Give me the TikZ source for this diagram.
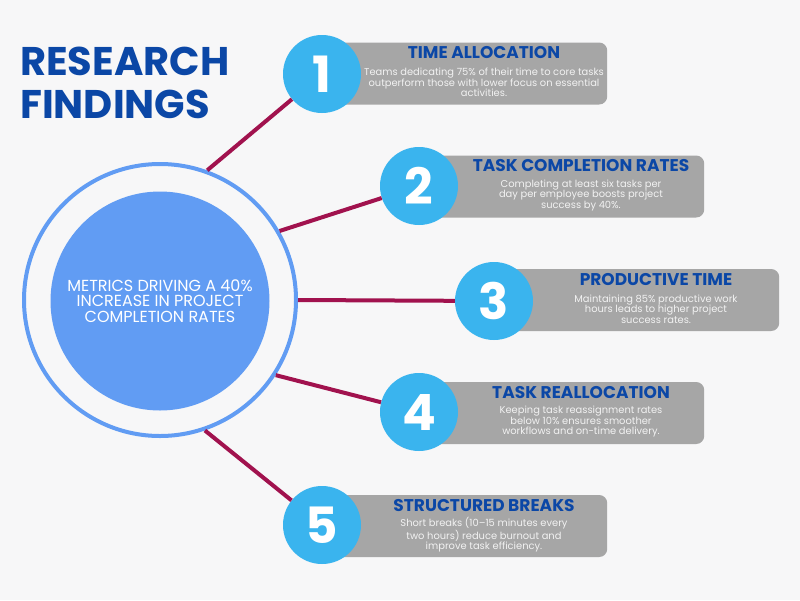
\documentclass[tikz,border=0pt]{standalone}
\usepackage{fontspec}
\setmainfont{Poppins}
\definecolor{pagebg}{HTML}{F7F7F8}
\definecolor{headblue}{HTML}{0B47A6}
\definecolor{coreblue}{HTML}{619CF3}
\definecolor{numblue}{HTML}{3AB4EE}
\definecolor{linkred}{HTML}{A1124E}
\definecolor{boxgray}{HTML}{A6A6A6}
\definecolor{bodytext}{HTML}{F2F2F2}
\begin{document}
\begin{tikzpicture}[x=1pt, y=-1pt,
  heading/.style={anchor=base west, text=headblue, font=\bfseries\fontsize{40}{40}\selectfont, inner sep=0},
  num/.style={circle, fill=numblue, minimum size=78, inner sep=0, text=white, font=\bfseries\fontsize{50}{50}\selectfont},
  card/.style={rectangle, rounded corners=8, fill=boxgray, minimum width=285, minimum height=62, anchor=west, inner sep=0},
  cardtitle/.style={text=headblue, font=\bfseries\fontsize{17}{17}\selectfont, inner sep=0},
  cardbody/.style={text=bodytext, align=center, font=\fontsize{9.9}{10.5}\selectfont, inner sep=0},
  link/.style={draw=linkred, line width=4}]
  % Background
  \fill[pagebg] (0,0) rectangle (800,600);

  % Heading
  \node[heading] (head1) at (20,75) {RESEARCH};
  \node[heading] (head2) at (20,118) {FINDINGS};

  % Centre circle
  \node[circle, draw=coreblue, line width=4, minimum size=272, inner sep=0] (ring) at (160,300) {};
  \node[circle, fill=coreblue, minimum size=219, inner sep=0, text=white, align=center,
        font=\fontsize{16}{15.5}\selectfont] (core) at (160,301)
        {METRICS DRIVING A 40\%\\INCREASE IN PROJECT\\COMPLETION RATES};

  % Cards
  \node[card] (card1) at (322,73.5) {};
  \node[card] (card2) at (419,186.5) {};
  \node[card] (card3) at (494,300) {};
  \node[card] (card4) at (419,413) {};
  \node[card] (card5) at (322,526) {};

  % Numbers
  \node[num] (n1) at (322,74) {1};
  \node[num] (n2) at (419,186) {2};
  \node[num] (n3) at (494,301) {3};
  \node[num] (n4) at (419,412) {4};
  \node[num] (n5) at (322,525) {5};

  % Connectors
  \draw[link] (ring.70.5) -- (n1);
  \draw[link] (ring.30.5) -- (n2);
  \draw[link] (ring.0) -- (n3);
  \draw[link] (ring.-33.5) -- (n4);
  \draw[link] (ring.-71) -- (n5);

  % Card texts
  \node[cardtitle] (t1) at (484,53) {TIME ALLOCATION};
  \node[cardbody] (d1) at (484,82.5) {Teams dedicating 75\% of their time to core tasks\\outperform those with lower focus on essential\\activities.};
  \node[cardtitle] (t2) at (581,166) {TASK COMPLETION RATES};
  \node[cardbody] (d2) at (581,195.5) {Completing at least six tasks per\\day per employee boosts project\\success by 40\%.};
  \node[cardtitle] (t3) at (656,279.5) {PRODUCTIVE TIME};
  \node[cardbody] (d3) at (656,309) {Maintaining 85\% productive work\\hours leads to higher project\\success rates.};
  \node[cardtitle] (t4) at (581,392.5) {TASK REALLOCATION};
  \node[cardbody] (d4) at (581,422) {Keeping task reassignment rates\\below 10\% ensures smoother\\workflows and on-time delivery.};
  \node[cardtitle] (t5) at (484,505.5) {STRUCTURED BREAKS};
  \node[cardbody] (d5) at (484,535) {Short breaks (10--15 minutes every\\two hours) reduce burnout and\\improve task efficiency.};
\end{tikzpicture}
\end{document}
